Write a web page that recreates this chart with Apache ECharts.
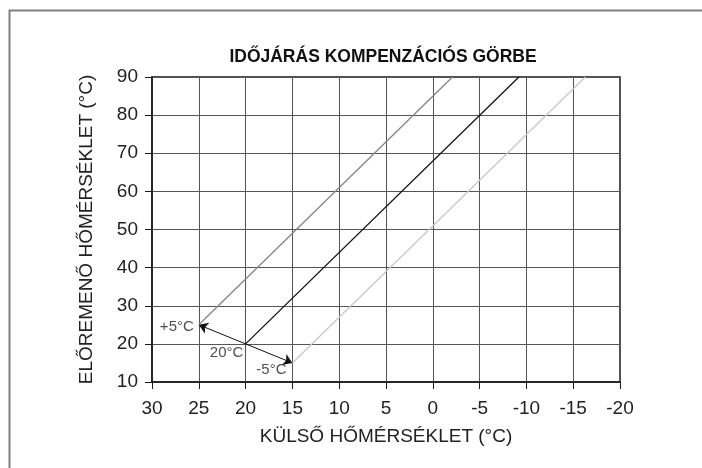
<!DOCTYPE html>
<html>
<head>
<meta charset="utf-8">
<script src="https://cdn.jsdelivr.net/npm/echarts@6/dist/echarts.min.js"></script>
<style>
  html, body { margin: 0; padding: 0; background: #fff; }
  #chart { width: 702px; height: 468px; }
</style>
</head>
<body>
<div id="chart"></div>
<script>
// Külső hőmérséklet (x) – előremenő hőmérséklet (y) pontpárok
const curvePlus5 = [[25, 25], [-2.1, 90]];
const curveBase = [[20, 20], [-9.2, 90]];
const curveMinus5 = [[15, 15], [-16.3, 90]];

// Eltolás-nyilak a 20 °C-os kiindulópontból
const arrowStart = [20, 20];
const arrowEnds = [[25, 25], [15, 15]];

// Feliratok a nyilak végpontjainál
const notePoints = [[25, 25], [20, 20], [15, 15]];
const noteTexts = ['+5°C', '20°C', '-5°C'];

const xTicks = { min: -20, max: 30, step: 5 };
const yTicks = { min: 10, max: 90, step: 10 };

const FONT = 'Liberation Sans';
const AXIS_FONT_SIZE = 19;
const chart = echarts.init(document.getElementById('chart'), null, { renderer: 'canvas' });

const noteStyles = [
  { position: 'left', distance: 5, offset: [0, 2] },
  { position: 'inside', offset: [-19, 9] },
  { position: 'inside', offset: [-21, 7] }
];

chart.setOption({
  animation: false,
  backgroundColor: '#fff',
  graphic: [
    {
      type: 'rect', left: 7, top: 8,
      shape: { width: 800, height: 600 },
      style: { fill: 'none', stroke: '#808080', lineWidth: 2 }
    },
    {
      type: 'text', x: 383, y: 57,
      style: {
        text: 'IDŐJÁRÁS KOMPENZÁCIÓS GÖRBE',
        fontFamily: FONT, fontWeight: 'bold', fontSize: 17.5, fill: '#111',
        textAlign: 'center', textVerticalAlign: 'middle'
      }
    }
  ],
  grid: {
    left: 152, right: 82, top: 77, bottom: 86,
    show: true, borderColor: '#1a1a1a', borderWidth: 1.5, backgroundColor: 'transparent'
  },
  xAxis: {
    type: 'value', inverse: true,
    min: xTicks.min, max: xTicks.max, interval: xTicks.step,
    name: 'KÜLSŐ HŐMÉRSÉKLET (°C)', nameLocation: 'middle', nameGap: 45,
    nameTextStyle: { fontFamily: FONT, fontSize: AXIS_FONT_SIZE, color: '#222' },
    axisLine: { show: true, onZero: false, lineStyle: { color: '#1a1a1a', width: 1.5 } },
    axisTick: { show: true, inside: false, length: 7, lineStyle: { color: '#1a1a1a', width: 1 } },
    axisLabel: { margin: 17, fontFamily: FONT, fontSize: AXIS_FONT_SIZE, color: '#222' },
    splitLine: { show: true, lineStyle: { color: '#555', width: 1 } }
  },
  yAxis: {
    type: 'value',
    min: yTicks.min, max: yTicks.max, interval: yTicks.step,
    name: 'ELŐREMENŐ HŐMÉRSÉKLET (°C)', nameLocation: 'middle', nameGap: 56, nameRotate: 90,
    nameTextStyle: { fontFamily: FONT, fontSize: AXIS_FONT_SIZE, color: '#222' },
    axisLine: { show: true, onZero: false, lineStyle: { color: '#1a1a1a', width: 1.5 } },
    axisTick: { show: true, inside: false, length: 7, lineStyle: { color: '#1a1a1a', width: 1 } },
    axisLabel: { margin: 14, fontFamily: FONT, fontSize: AXIS_FONT_SIZE, color: '#222' },
    splitLine: { show: true, lineStyle: { color: '#555', width: 1 } }
  },
  series: [
    {
      type: 'line', data: curvePlus5, symbol: 'none',
      lineStyle: { color: '#858585', width: 1.3 }
    },
    {
      type: 'line', data: curveBase, symbol: 'none',
      lineStyle: { color: '#111', width: 1.3 }
    },
    {
      type: 'line', data: curveMinus5, symbol: 'none',
      lineStyle: { color: '#c8c8c8', width: 1.3 }
    },
    {
      type: 'lines', coordinateSystem: 'cartesian2d',
      symbol: ['none', 'arrow'], symbolSize: [0, 9],
      lineStyle: { color: '#111', width: 1, opacity: 1 },
      data: arrowEnds.map(end => ({ coords: [arrowStart, end] }))
    },
    {
      type: 'scatter', symbolSize: 0, silent: true,
      data: notePoints.map((p, i) => ({
        value: p,
        label: Object.assign({
          show: true, formatter: noteTexts[i],
          fontFamily: FONT, fontSize: 15, color: '#222'
        }, noteStyles[i])
      }))
    }
  ]
});
</script>
</body>
</html>
